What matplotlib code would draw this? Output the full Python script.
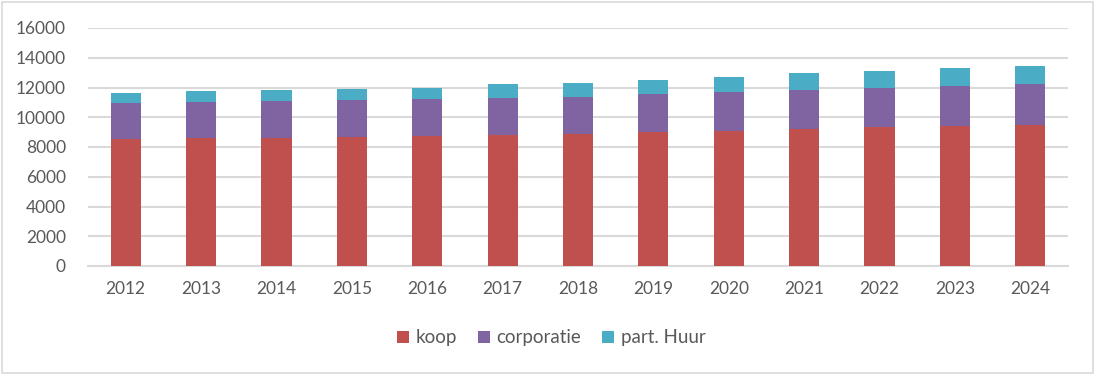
import matplotlib.pyplot as plt
import numpy as np
from matplotlib.patches import Rectangle

# Data
jaren = ['2012', '2013', '2014', '2015', '2016', '2017', '2018',
         '2019', '2020', '2021', '2022', '2023', '2024']
koop = [8540, 8630, 8630, 8690, 8760, 8810, 8900,
        9030, 9080, 9210, 9340, 9430, 9480]
corporatie = [2420, 2420, 2490, 2490, 2470, 2480, 2460,
              2530, 2620, 2620, 2620, 2670, 2760]
part_huur = [670, 740, 740, 740, 740, 940, 940,
             940, 1010, 1140, 1140, 1210, 1210]

kleuren = ['#c0504d', '#8064a2', '#4bacc6']
tekst = '#595959'

plt.rcParams['font.family'] = ['Lato', 'DejaVu Sans']

fig = plt.figure(figsize=(10.96, 3.74), dpi=100)
ax = fig.add_axes([88 / 1096, 1 - 266 / 374, 980 / 1096, 238 / 374])

x = np.arange(len(jaren))
breedte = 0.4
bodem = np.zeros(len(jaren))
for waarden, kleur, label in zip([koop, corporatie, part_huur], kleuren,
                                 ['koop', 'corporatie', 'part. Huur']):
    ax.bar(x, waarden, breedte, bottom=bodem, color=kleur, label=label, zorder=3)
    bodem += np.array(waarden)

ax.set_xlim(-0.5, len(jaren) - 0.5)
ax.set_ylim(0, 16000)
ax.set_yticks(range(0, 16001, 2000))
ax.set_xticks(x)
ax.set_xticklabels(jaren)
ax.yaxis.grid(True, color='#d9d9d9', linewidth=1.5, zorder=0)
ax.tick_params(axis='both', length=0, labelsize=12.5, labelcolor=tekst)
ax.tick_params(axis='x', pad=11)
ax.tick_params(axis='y', pad=16)
for kant in ['top', 'right', 'left']:
    ax.spines[kant].set_visible(False)
ax.spines['bottom'].set_color('#d9d9d9')
ax.spines['bottom'].set_linewidth(1.5)

leg = fig.legend(loc='center', bbox_to_anchor=(0.503, 1 - 338 / 374), ncol=3,
                 frameon=False, fontsize=13.5, handlelength=0.65, handleheight=0.65,
                 handletextpad=0.35, columnspacing=1.1)
for t in leg.get_texts():
    t.set_color(tekst)

# rand om de hele grafiek
fig.patches.append(Rectangle((0.002, 0.004), 0.995, 0.99, transform=fig.transFigure,
                             fill=False, edgecolor='#d9d9d9', linewidth=1.2))

fig.savefig('out.png', dpi=100)
